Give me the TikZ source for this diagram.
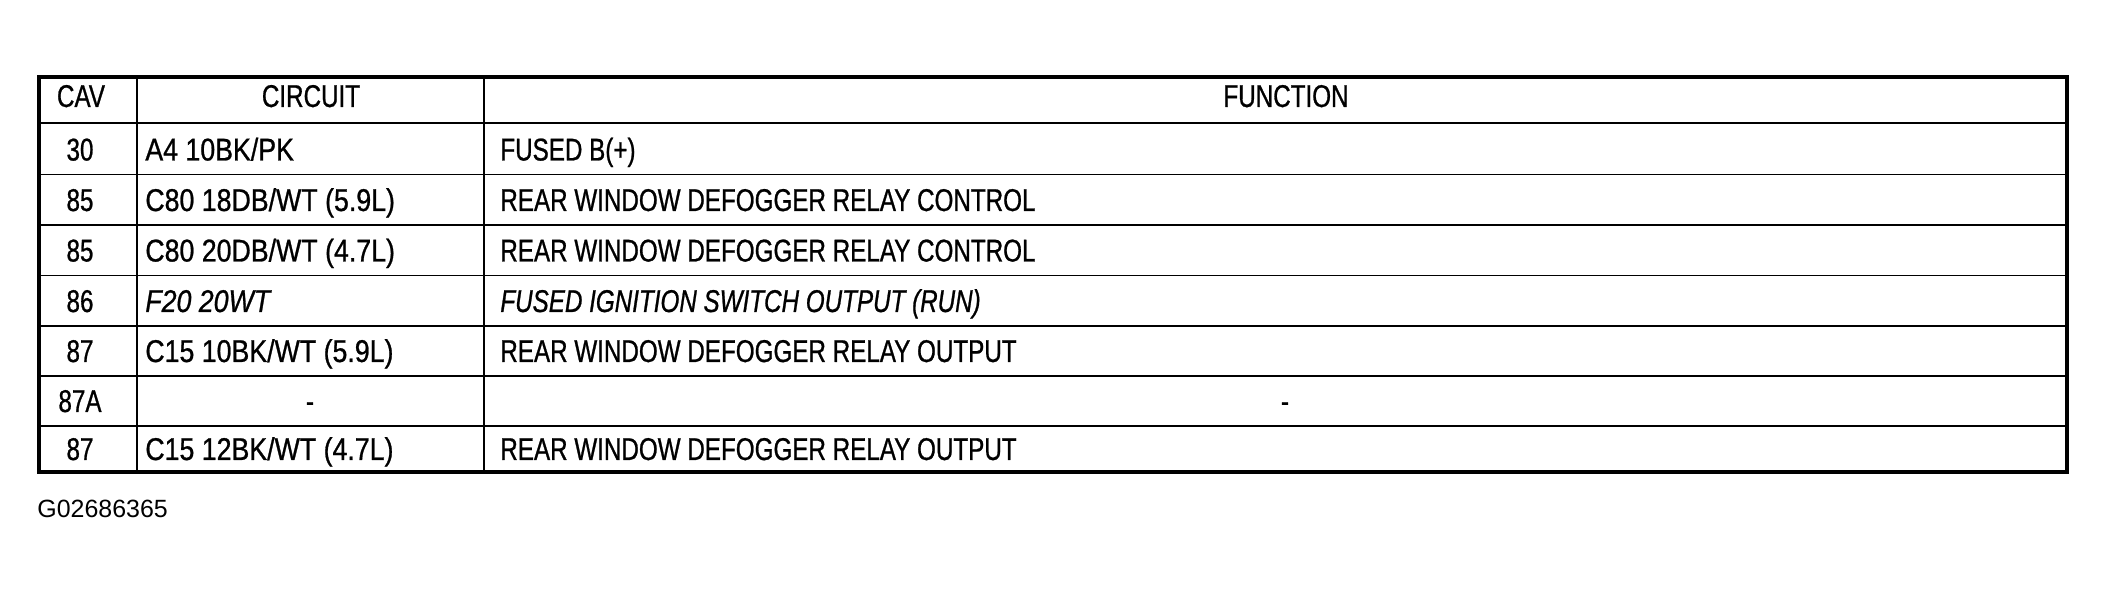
\documentclass[tikz,border=0pt]{standalone}
\usepackage{fontspec}
\newfontfamily\narrowsf{Liberation Sans}[FakeStretch=0.77,FakeBold=0.8]
\newfontfamily\circsf{Liberation Sans}[FakeStretch=0.85,FakeBold=0.8]
\newfontfamily\plainsf{Liberation Sans}
\begin{document}
\begin{tikzpicture}[x=0.2mm,y=-0.2mm,
        cell/.style={font=\narrowsf\fontsize{17.9}{20}\selectfont, inner sep=0pt, anchor=base},
        lcell/.style={cell, anchor=base west},
        ccell/.style={lcell, font=\circsf\fontsize{17.9}{20}\selectfont},
        rule/.style={line width=1.1pt}]
    \useasboundingbox (0,0) rectangle (2107,593);

    \draw[line width=2pt] (39,77) rectangle (2067,472);
    \draw[rule] (39,123) -- (2067,123);
    \draw[rule] (39,174.5) -- (2067,174.5);
    \draw[rule] (39,225) -- (2067,225);
    \draw[rule] (39,275.5) -- (2067,275.5);
    \draw[rule] (39,326) -- (2067,326);
    \draw[rule] (39,376) -- (2067,376);
    \draw[rule] (39,426) -- (2067,426);
    \draw[rule] (137,77) -- (137,472);
    \draw[rule] (484,77) -- (484,472);

    \node[cell] (cavh) at (81,107) {CAV};
    \node[cell] (circh) at (311,107) {CIRCUIT};
    \node[cell] (funch) at (1286,107) {FUNCTION};

    \node[cell] (cav1) at (80,160.5) {30};
    \node[ccell] (circ1) at (145,160.5) {A4 10BK/PK};
    \node[lcell] (func1) at (500,160.5) {FUSED B(+)};

    \node[cell] (cav2) at (80,211) {85};
    \node[ccell] (circ2) at (145,211) {C80 18DB/WT (5.9L)};
    \node[lcell] (func2) at (500,211) {REAR WINDOW DEFOGGER RELAY CONTROL};

    \node[cell] (cav3) at (80,261.5) {85};
    \node[ccell] (circ3) at (145,261.5) {C80 20DB/WT (4.7L)};
    \node[lcell] (func3) at (500,261.5) {REAR WINDOW DEFOGGER RELAY CONTROL};

    \node[cell] (cav4) at (80,312) {86};
    \node[ccell] (circ4) at (145,312) {\itshape F20 20WT};
    \node[lcell] (func4) at (500,312) {\itshape FUSED IGNITION SWITCH OUTPUT (RUN)};

    \node[cell] (cav5) at (80,362) {87};
    \node[ccell] (circ5) at (145,362) {C15 10BK/WT (5.9L)};
    \node[lcell] (func5) at (500,362) {REAR WINDOW DEFOGGER RELAY OUTPUT};

    \node[cell] (cav6) at (80,412) {87A};
    \node[cell] (circ6) at (310,412) {-};
    \node[cell] (func6) at (1285,412) {-};

    \node[cell] (cav7) at (80,460) {87};
    \node[ccell] (circ7) at (145,460) {C15 12BK/WT (4.7L)};
    \node[lcell] (func7) at (500,460) {REAR WINDOW DEFOGGER RELAY OUTPUT};

    \node[anchor=base west, inner sep=0pt, font=\plainsf\fontsize{14.2}{16}\selectfont] (figid) at (37,518) {G02686365};
\end{tikzpicture}
\end{document}
